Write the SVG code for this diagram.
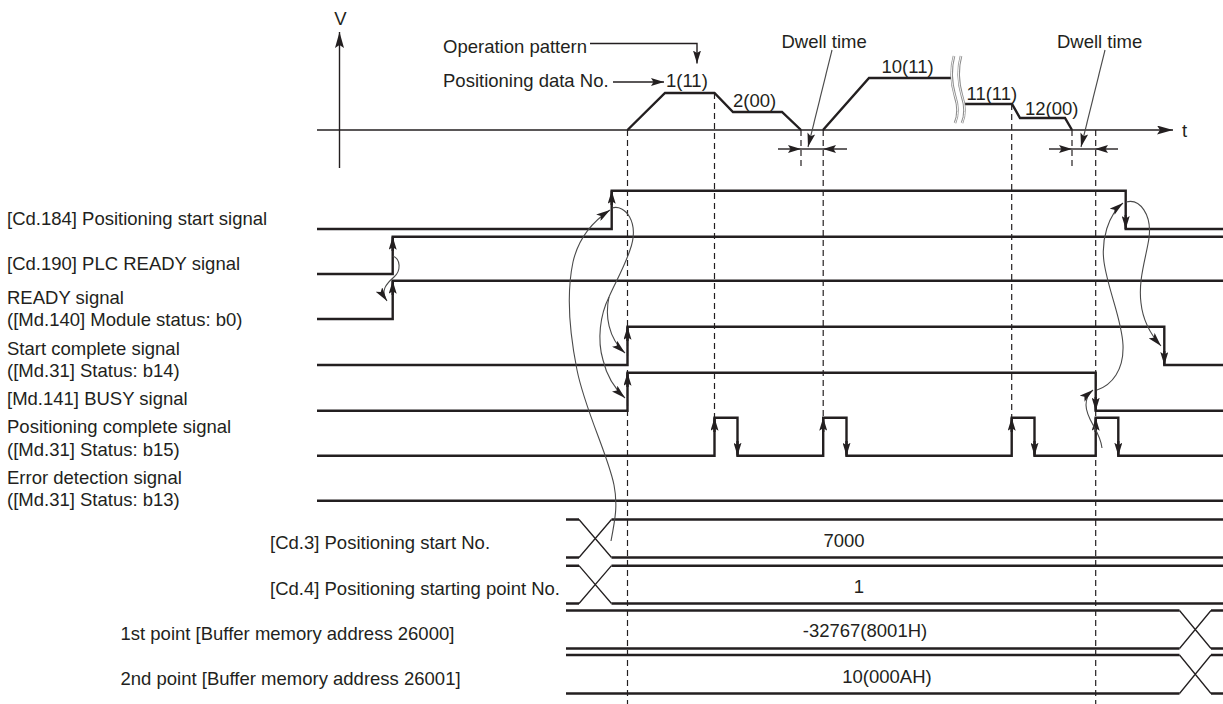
<svg xmlns="http://www.w3.org/2000/svg" width="1223" height="704" viewBox="0 0 1223 704">
<style>
text{font-family:"Liberation Sans",Arial,sans-serif;font-size:18.5px;fill:#231f20}
.mid{text-anchor:middle}
.sig{fill:none;stroke:#231f20;stroke-width:2.4;stroke-linejoin:miter}
.diag{fill:none;stroke:#231f20;stroke-width:1.3}
.dash{fill:none;stroke:#231f20;stroke-width:1.2;stroke-dasharray:6 4}
.thin{fill:none;stroke:#4a4a4a;stroke-width:1.1}
.ax{fill:none;stroke:#231f20;stroke-width:1.4}
.brk{fill:none;stroke:#8a8a8a;stroke-width:2.6}
.brkw{fill:none;stroke:#fff;stroke-width:0.9}
.ea{fill:none;stroke:#231f20;stroke-width:2.4;marker-end:url(#ah)}
.la{fill:none;stroke:#231f20;stroke-width:1.4;marker-end:url(#ah)}
.ca{fill:none;stroke:#4a4a4a;stroke-width:1.1;marker-end:url(#th)}
</style>
<defs>
<marker id="ah" viewBox="0 0 13 8" refX="13" refY="4" markerWidth="13" markerHeight="8" markerUnits="userSpaceOnUse" orient="auto">
<path d="M0,0 L13,4 L0,8 L2.5,4 z" fill="#231f20"/>
</marker>
<marker id="th" viewBox="0 0 14 8" refX="14" refY="4" markerWidth="14" markerHeight="8" markerUnits="userSpaceOnUse" orient="auto">
<path d="M0,0 L14,4 L0,8 L3,4 z" fill="#231f20"/>
</marker>
<marker id="axh" viewBox="0 0 16 9" refX="16" refY="4.5" markerWidth="16" markerHeight="9" markerUnits="userSpaceOnUse" orient="auto">
<path d="M0,0 L16,4.5 L0,9 L3,4.5 z" fill="#231f20"/>
</marker>
</defs>

<g id="axes">
<path class="ax" d="M339.5,168 V32" marker-end="url(#axh)"/>
<path class="ax" d="M317,130 H1173" marker-end="url(#axh)"/>
<text x="340.5" y="25" class="mid">V</text>
<text x="1182" y="136.5">t</text>
</g>

<g id="profile">
<path class="sig" d="M627.5,130 L665,93 L714.5,93 L733,112 L782,112 L801,130"/>
<path class="sig" d="M823,130 L869,78 L952,78"/>
<path class="sig" d="M965,104 L1012,104 L1020,118 L1065,118 L1072,130"/>
<path class="brk" d="M954,56 C950,70 951,82 955,96 C959,108 958,116 955,123"/>
<path class="brkw" d="M954,56 C950,70 951,82 955,96 C959,108 958,116 955,123"/>
<path class="brk" d="M961,56 C957,70 958,82 962,96 C966,108 965,116 962,123"/>
<path class="brkw" d="M961,56 C957,70 958,82 962,96 C966,108 965,116 962,123"/>
<text x="666" y="87">1(11)</text>
<text x="733" y="107">2(00)</text>
<text x="881.5" y="72.5">10(11)</text>
<text x="966.5" y="100">11(11)</text>
<text x="1025" y="115">12(00)</text>
</g>

<g id="operation-pattern">
<text x="443" y="52.5">Operation pattern</text>
<path class="la" d="M590,43.5 H697 V63.5"/>
</g>
<g id="positioning-data-no">
<text x="443" y="87">Positioning data No.</text>
<path class="la" d="M613,82 H664"/>
</g>

<g id="dwell-1">
<text x="781.5" y="47.5">Dwell time</text>
<path class="thin" d="M832,50 L808,147" marker-end="url(#th)"/>
<path class="ax" d="M801,149 H823"/>
<path class="la" d="M778,149 H801"/>
<path class="la" d="M847,149 H823"/>
</g>
<g id="dwell-2">
<text x="1057" y="47.5">Dwell time</text>
<path class="thin" d="M1105,50 L1081,147" marker-end="url(#th)"/>
<path class="ax" d="M1072,149 H1095"/>
<path class="la" d="M1049,149 H1072"/>
<path class="la" d="M1118,149 H1095"/>
</g>

<g id="guides">
<path class="dash" d="M627.5,130 V704"/>
<path class="dash" d="M714.5,93 V417"/>
<path class="dash" d="M801,130 V169"/>
<path class="dash" d="M823.2,130 V417"/>
<path class="dash" d="M1011.7,104 V417"/>
<path class="dash" d="M1072,130 V169"/>
<path class="dash" d="M1095.7,130 V704"/>
</g>

<g id="cd184">
<text x="7" y="224.5">[Cd.184] Positioning start signal</text>
<path class="sig" d="M317,229 H611.7 V190.7 H1125.7 V229 H1223"/>
<path class="ea" d="M611.7,205 V190.7"/>
<path class="ea" d="M1125.7,215 V229"/>
</g>
<g id="cd190">
<text x="7" y="270">[Cd.190] PLC READY signal</text>
<path class="sig" d="M317,274 H392.7 V236.7 H1223"/>
<path class="ea" d="M392.7,251 V236.7"/>
</g>
<g id="ready">
<text x="7" y="303.5">READY signal</text>
<text x="7" y="326">([Md.140] Module status: b0)</text>
<path class="sig" d="M317,319 H392.7 V280.7 H1223"/>
<path class="ea" d="M392.7,295 V280.7"/>
</g>
<g id="start-complete">
<text x="7" y="355">Start complete signal</text>
<text x="7" y="377">([Md.31] Status: b14)</text>
<path class="sig" d="M317,365 H627.5 V326.7 H1164.3 V365 H1223"/>
<path class="ea" d="M627.5,341 V326.7"/>
<path class="ea" d="M1164.3,351 V365"/>
</g>
<g id="busy">
<text x="7" y="405">[Md.141] BUSY signal</text>
<path class="sig" d="M317,410.7 H627.5 V372.7 H1095.7 V410.7 H1223"/>
<path class="ea" d="M627.5,387 V372.7"/>
<path class="ea" d="M1095.7,397 V410.7"/>
</g>
<g id="positioning-complete">
<text x="7" y="433">Positioning complete signal</text>
<text x="7" y="456">([Md.31] Status: b15)</text>
<path class="sig" d="M317,455.7 H714.5 V417.7 H737.5 V455.7 H823.2 V417.7 H846.5 V455.7 H1011.7 V417.7 H1034.5 V455.7 H1095.7 V417.7 H1118.3 V455.7 H1223"/>
<path class="ea" d="M714.5,432 V417.7"/>
<path class="ea" d="M823.2,432 V417.7"/>
<path class="ea" d="M1011.7,432 V417.7"/>
<path class="ea" d="M1095.7,432 V417.7"/>
<path class="ea" d="M737.5,441 V455.7"/>
<path class="ea" d="M846.5,441 V455.7"/>
<path class="ea" d="M1034.5,441 V455.7"/>
<path class="ea" d="M1118.3,441 V455.7"/>
</g>
<g id="error-detection">
<text x="7" y="483.5">Error detection signal</text>
<text x="7" y="506">([Md.31] Status: b13)</text>
<path class="sig" d="M317,500.7 H1223"/>
</g>

<g id="cd3">
<text x="270" y="549">[Cd.3] Positioning start No.</text>
<path class="sig" d="M566,519.5 H579 M611.5,519.5 H1223 M566,557.5 H579 M611.5,557.5 H1223"/>
<path class="diag" d="M579,519.5 L611.5,557.5 M579,557.5 L611.5,519.5"/>
<text x="844" y="547" class="mid">7000</text>
</g>
<g id="cd4">
<text x="270" y="595">[Cd.4] Positioning starting point No.</text>
<path class="sig" d="M566,565.7 H579 M611.5,565.7 H1223 M566,603.5 H579 M611.5,603.5 H1223"/>
<path class="diag" d="M579,565.7 L611.5,603.5 M579,603.5 L611.5,565.7"/>
<text x="859" y="593" class="mid">1</text>
</g>
<g id="point1">
<text x="120.5" y="640">1st point [Buffer memory address 26000]</text>
<path class="sig" d="M566,610.5 H1179.5 M1211,610.5 H1223 M566,648.5 H1179.5 M1211,648.5 H1223"/>
<path class="diag" d="M1179.5,610.5 L1211,648.5 M1179.5,648.5 L1211,610.5"/>
<text x="865" y="637" class="mid">-32767(8001H)</text>
</g>
<g id="point2">
<text x="120.5" y="685">2nd point [Buffer memory address 26001]</text>
<path class="sig" d="M566,655 H1179.5 M1211,655 H1223 M566,693.5 H1179.5 M1211,693.5 H1223"/>
<path class="diag" d="M1179.5,655 L1211,693.5 M1179.5,693.5 L1211,655"/>
<text x="887" y="683" class="mid">10(000AH)</text>
</g>

<g id="connectors">
<path class="ca" d="M392.7,256 C401,259 401,271 394,277 C386,284 380,291 387,301"/>
<path class="ca" d="M611,541 C615,520 618,505 614,485 C608,455 585,410 577,370 C570,335 566,295 573,262 C578,240 592,222 610,210"/>
<path class="thin" d="M612,208 C625,204 640,222 630,250 C624,268 614,285 609,297"/>
<path class="ca" d="M609,297 C605,315 608,338 625,353"/>
<path class="ca" d="M609,297 C600,315 597,340 603,360 C607,377 614,388 625,398"/>
<path class="ca" d="M1102,448 C1100,430 1086,420 1086,405 C1086,398 1088,394 1093,390"/>
<path class="ca" d="M1097,390 C1112,385 1124,370 1123,345 C1122,320 1108,290 1104,262 C1101,240 1108,215 1123,203"/>
<path class="ca" d="M1126,202 C1140,198 1152,215 1149,238 C1146,258 1138,280 1141,303 C1143,322 1152,336 1161,346"/>
</g>
</svg>
